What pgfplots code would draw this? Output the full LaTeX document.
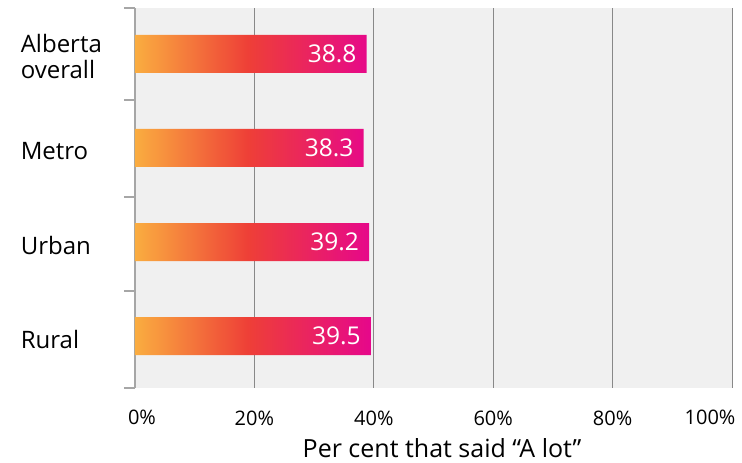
\documentclass[border=0pt]{standalone}
\usepackage{fontspec}
\setmainfont{Open Sans}
\usepackage{pgfplots}
\pgfplotsset{compat=1.18}
\definecolor{bggray}{HTML}{F0F0F0}
\definecolor{gridgray}{HTML}{888888}
\definecolor{axgray}{HTML}{A6A6A6}
\definecolor{barL}{HTML}{FAAD40}
\definecolor{barM}{HTML}{EE3F37}
\definecolor{barR}{HTML}{E6078B}
\pgfdeclarehorizontalshading{barshade}{100bp}{color(0bp)=(barL); color(25bp)=(barL); color(49bp)=(barM); color(75bp)=(barR); color(100bp)=(barR)}
\begin{document}
\begin{tikzpicture}[x=1pt,y=1pt]
\useasboundingbox (0,0) rectangle (742,463);
\begin{axis}[
 at={(135pt,75pt)}, anchor=south west, scale only axis, width=597pt, height=380pt,
 xmin=0, xmax=100, ymin=-0.489, ymax=3.553, y dir=reverse,
 axis background/.style={fill=bggray},
 axis x line*=bottom, axis y line*=left,
 x axis line style={draw=none},
 y axis line style={draw=axgray, line width=1.6pt},
 xmajorgrids, grid style={gridgray, line width=0.8pt},
 xtick={0,20,40,60,80,100}, xticklabels={,20\%,40\%,60\%,80\%,},
 xticklabel style={font=\fontsize{20}{24}\selectfont, anchor=base, yshift=-37pt},
 ytick={0,1,2,3}, yticklabels={{Alberta\\overall},Metro,Urban,Rural},
 yticklabel style={font=\fontsize{24}{26}\selectfont, align=left, text width=114pt, anchor=east, inner sep=0pt, yshift=-3pt},
 major tick length=0pt,
 extra y ticks={-0.489,0.489,1.52,2.52,3.553}, extra y tick labels={},
 extra y tick style={major tick length=11pt, tick align=outside, tick style={draw=axgray, line width=1.5pt}},
 /pgf/number format/assume math mode=true,
 clip=false,
]
\addplot[xbar, bar width=38pt, draw=none, shading=barshade,
 nodes near coords={\pgfmathprintnumber[fixed,fixed zerofill,precision=1,assume math mode=true]{\pgfplotspointmeta}},
 point meta=x,
 nodes near coords style={anchor=east, text=white, inner sep=0pt, xshift=-10pt, font=\fontsize{24.5}{26}\selectfont}]
 coordinates {(38.8,0) (38.3,1) (39.2,2) (39.5,3)};
\end{axis}
\node[anchor=base, font=\fontsize{20}{24}\selectfont] at (142,38) {0\%};
\node[anchor=base, font=\fontsize{20}{24}\selectfont] at (710,38) {100\%};
\node[anchor=base, font=\fontsize{25}{28}\selectfont] at (442,5) {Per cent that said “A lot”};
\end{tikzpicture}
\end{document}
